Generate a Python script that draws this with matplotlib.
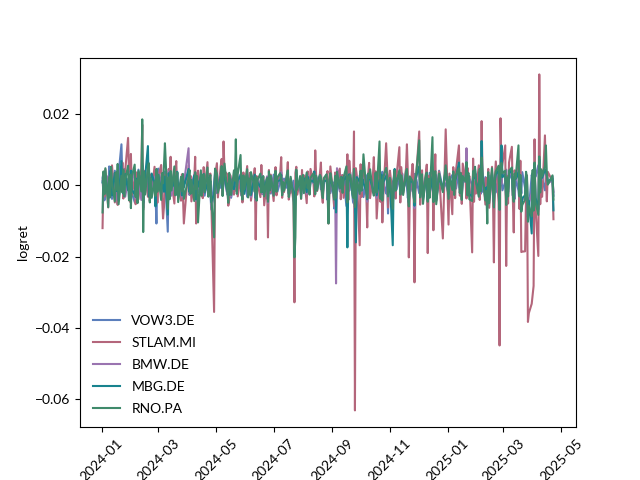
import matplotlib
matplotlib.use("Agg")
import matplotlib.pyplot as plt
import pandas as pd
import numpy as np

plt.rcParams['font.family'] = ['Lato', 'DejaVu Sans']

# log returns in units of 1e-3 (one row = 20 trading days)
vow3 = [
    2.1, 3.5, -4.2, 1.8, -2.6, 5.3, -1.4, 0.6, -3.8, 4.1, -0.9, 2.7, -5.1, 3.3, 11.5, 1.2, -2.8, 4.6, -1.7, 0.8,
    -3.9, 2.4, 5.2, -2.1, -4.7, 3.6, 0.3, -1.8, 4.4, -2.9, 6.1, -6.3, 1.5, 3.8, -2.2, 5.0, -3.4, 0.9, 2.6, -1.1,
    -2.5, -10.7, 3.2, 4.7, 0.4, -3.1, 2.2, -1.6, 3.9, -13.0, 4.3, 1.1, -2.4, 0.7, 3.5, -1.9, 2.8, -0.6, -3.3, 1.9,
    2.5, -1.2, 0.8, 3.4, -2.7, 1.6, -0.5, 2.9, -3.6, 1.3, 0.2, -2.1, 3.1, -1.4, 0.9, 2.3, -2.9, 1.7, -0.8, 2.6,
    -1.5, -6.8, 0.6, 3.7, -2.2, 1.4, -0.7, 2.8, -1.9, 0.5, 3.3, -2.6, 1.8, -0.3, 2.4, -3.5, 1.0, 0.4, 2.9, -1.3,
    1.6, 3.1, -2.4, 0.7, -1.1, 2.5, -3.2, 1.9, 0.3, -2.0, 1.2, 2.7, -1.6, -3.4, 0.8, 2.2, -1.3, 0.6, -2.5, 1.5,
    0.9, -3.8, 2.1, -0.4, 1.7, -2.3, 3.0, -1.0, 0.5, 2.4, -1.8, 1.1, 3.2, -2.6, 0.2, 1.9, -0.7, 2.6, -1.5, 0.8,
    -2.1, 1.3, -7.4, -1.9, 2.0, -0.8, 1.6, -2.7, 0.4, 2.2, -1.4, 3.1, -0.6, 1.5, -2.0, 0.9, 2.6, 3.4, -1.2, 0.7,
    1.8, 2.5, -1.1, 0.6, -2.4, 1.2, 3.0, -4.1, 0.3, 1.7, -2.2, 0.8, -6.5, 1.4, -0.9, 2.1, -1.7, 0.5, 2.8, -1.3,
    1.9, -5.8, 2.4, 0.7, -1.5, 3.6, -4.7, -5.2, 2.3, -1.0, 1.6, 0.4, -2.1, 2.7, -0.6, -3.3, 1.2, 2.9, -1.8, 0.9,
    2.6, -1.4, 0.8, 3.1, -2.0, 1.5, -0.7, 2.2, -1.6, 3.8, 0.5, -2.3, 1.7, -7.9, 2.4, -0.9, 1.1, -1.8, 2.9, 0.3,
    -1.2, 2.0, 0.6, -2.5, 3.3, -1.1, 1.4, -0.4, -3.6, 2.1, 0.9, -1.7, 2.5, 3.2, -0.8, 1.6, -2.2, 0.4, 1.9, -1.3,
    -3.1, 2.4, 0.7, 1.8, -2.6, 3.5, -0.5, 1.2, -1.9, 2.8, -3.4, 4.1, -1.0, 0.6, -2.3, 1.7, 2.9, -1.5, 0.3, 3.6,
    -0.9, 4.2, -2.1, 1.3, -3.7, 2.5, 3.9, -1.6, 0.8, -2.8, 1.9, 0.2, -4.6, 2.6, -1.3, 3.1, -0.7, 1.5, -2.4, 5.2,
    -1.8, 2.3, -3.5, -4.1, 1.6, 0.4, 3.0, -2.7, -3.9, 1.2, -2.0, 2.8, -3.3, 3.6, 2.1, -1.4, 0.9, 4.4, -2.6, -1.1,
    1.7, 3.4, -2.9, 0.6, -3.8, 2.2, -1.5, -4.4, 1.1, -2.3, 3.7, -0.8, 2.5, -4.9, -3.6, -6.8, 2.9, 1.8, -5.4, 3.1,
    2.4, 5.6, -2.1, 3.3, 0.7, 1.9, -1.4, 2.8, 1.2, 0.4, 2.5, -2.9,
]

stlam = [
    -12.0, 2.8, -3.1, 4.5, -6.2, 1.7, 3.9, -2.4, 5.6, -4.8, 0.9, 3.2, -5.5, 2.1, -1.3, 6.4, -3.7, 1.5, 4.2, 13.3,
    3.4, -4.6, 8.8, -2.7, 1.9, -5.3, 3.6, 0.7, -3.9, 4.8, 17.0, -6.9, 2.5, 4.1, -3.2, 1.6, -4.4, 3.0, -1.8, 5.2,
    -2.6, 4.3, -4.9, 2.3, 5.7, -3.5, -9.3, -6.0, 2.9, -1.5, 4.6, 3.1, 8.0, 1.4, -5.1, 3.7, 6.8, -2.2, 0.8, -4.3,
    3.1, -2.4, -10.7, 5.6, -1.8, 2.7, -4.5, 1.8, 8.0, -10.7, 2.4, 4.1, -2.9, 1.6, -3.6, 5.1, -1.2, 6.5, -2.7, 0.9,
    3.3, -4.1, -35.5, 2.6, 6.2, -3.4, 5.3, 7.4, -2.8, 12.3, 4.0, 3.1, -5.7, -4.2, 2.9, 1.3, -2.6, 3.8, -1.5, 4.7,
    -3.1, 2.2, 1.0, -4.8, 3.6, -1.7, 5.4, -2.9, 0.7, 3.5, -4.3, 1.9, 4.8, -15.2, 2.6, 0.4, -3.3, 5.7, -1.1, 2.4,
    -5.6, 1.8, -14.6, 4.3, -2.1, 3.0, -4.4, 1.2, 5.1, -2.8, 0.6, 3.7, 7.9, -3.5, 1.4, -1.9, 2.7, 6.5, -4.0, -2.3,
    1.9, -4.7, -32.8, 3.5, 5.2, -2.6, 1.7, -3.8, 4.3, -1.2, 2.8, -5.0, 3.9, 0.5, -2.4, 4.6, 1.3, -3.1, 9.8, 2.0,
    -1.6, 3.4, 6.4, -2.7, -4.9, 1.5, 2.6, 4.0, -10.7, -1.9, 5.3, -2.3, -5.8, 3.6, -1.4, 2.2, 4.7, -3.9, 0.8, 2.9,
    -3.5, 2.1, 8.7, -4.1, 6.9, 3.0, -2.4, 15.1, -63.1, 4.8, 2.7, -16.8, 5.9, -3.2, 1.8, 4.4, -2.5, -11.8, 3.1, 6.3,
    -3.6, 2.8, 7.9, -1.7, 3.9, -9.3, 5.2, -4.6, 2.3, -10.4, -3.0, 11.8, 5.5, -6.2, 1.4, 4.1, -2.8, 0.9, 3.7, -3.7,
    2.5, 10.7, -4.8, 5.1, 1.6, -2.2, 4.7, 11.5, 2.9, -20.2, -3.3, 6.0, 2.4, -27.2, -1.8, 3.6, 15.1, -5.4, 1.1, 4.2,
    -3.0, 3.2, 5.8, -19.0, 2.7, -2.1, 4.3, -12.6, 1.5, 8.7, -4.3, 3.9, -14.9, 15.7, -11.0, 3.3, -8.1, 5.1, 2.0, -3.6,
    4.4, 11.2, -2.9, 3.5, -5.2, 6.1, 1.8, -3.7, 4.9, -1.5, 2.6, -18.8, 7.5, -4.6, 3.0, -2.3, 5.6, -4.1, 1.2, 18.0,
    3.7, -5.4, 2.1, -3.8, 4.6, -6.3, 5.2, -2.5, -21.6, 1.9, 6.7, -4.8, -44.9, 18.8, 4.3, 5.9, 11.2, -22.6, 2.6, -5.1,
    6.4, 10.8, -3.4, -13.2, 4.2, 2.7, 5.5, -6.6, 6.9, -18.7, -18.6, -18.5, -3.0, 2.8, -38.3, -35.8, -33.2, -30.7, -28.2, 12.9,
    -6.0, -19.8, 31.1, -5.3, 4.1, -3.2, 14.0, 2.6, -4.5, 3.8, 1.1, -9.5,
]

bmw = [
    1.4, -2.3, 3.8, -1.1, 2.6, -3.4, 0.7, 4.2, -2.0, 1.5, -0.6, 3.1, -4.0, 2.2, 5.1, -1.7, 0.3, 2.9, -3.2, 1.8,
    -1.5, 3.6, -2.8, 0.9, 4.5, -3.7, 1.2, -0.4, 2.7, -4.1, 6.3, -5.2, 2.0, -1.3, 3.4, 4.6, -2.2, 0.8, -3.0, 2.4,
    -4.6, 1.7, -0.9, 3.2, -2.1, 0.5, 2.8, -1.6, 1.1, -6.4, 3.9, -0.7, 2.3, -2.9, 1.4, 0.6, -1.8, 3.5, -2.4, 0.2,
    -3.2, 1.9, 0.4, 10.4, -2.6, 1.3, -1.7, 3.0, 0.8, -4.3, 2.1, -0.9, 1.6, -2.2, 2.7, 0.3, -1.4, 3.3, -2.5, 1.1,
    0.6, -5.8, -3.1, 2.4, 1.0, -1.9, 3.2, 2.1, -0.8, 4.4, 1.7, -2.4, -1.2, 0.9, 2.5, -3.0, 1.5, -0.5, 3.6, -1.7,
    2.0, 1.4, -2.9, 0.7, 2.3, -1.5, 3.4, -2.1, 0.4, 1.8, -3.3, 1.2, 2.6, -4.2, 0.5, 1.9, -1.0, 2.8, -2.3, 0.6,
    -1.8, 2.5, -4.9, 1.6, -0.7, 2.2, -2.8, 0.9, 3.1, -1.3, 0.4, 2.0, 3.7, -1.9, 1.2, -0.6, 2.4, 1.5, -2.7, -0.9,
    1.1, -2.2, -6.3, -2.5, 2.9, -1.0, 0.7, -3.1, 2.0, 0.3, 1.6, -2.4, 2.8, -0.5, -1.3, 1.9, 0.6, 3.2, -1.7, 1.0,
    -0.8, 2.2, 1.4, -1.6, -2.9, 0.9, 1.7, -0.4, -5.1, 0.7, 2.6, -1.5, -3.4, 1.3, -27.5, 4.8, -1.2, 2.0, 1.3, -0.6,
    0.9, 3.4, -6.2, 1.1, 2.4, 1.6, -2.7, 3.3, -7.8, 1.9, -4.1, 2.8, 0.5, -1.7, 2.2, 1.4, -0.8, -4.6, 1.8, 3.0,
    2.3, -1.6, -2.4, -1.2, 2.8, -3.5, 1.0, -1.9, 2.6, -3.0, 0.4, 3.1, 2.1, -2.6, -1.4, 0.8, -5.7, 1.5, 3.4, -1.1,
    0.7, 2.9, -1.8, 1.2, 0.3, -2.0, 2.7, 3.5, -0.9, -5.3, 1.6, 0.5, -2.2, -6.4, 1.3, 2.4, 4.8, -2.3, 0.8, 1.9,
    -4.1, 1.5, 2.3, -3.2, 0.6, -2.7, 1.9, -3.1, 0.4, 2.6, -4.4, 2.0, -1.5, 3.8, -2.9, 1.1, -0.3, 2.4, -1.6, 0.8,
    1.7, 3.6, -1.2, 2.5, -2.8, 1.4, 0.9, 10.4, -1.7, 2.2, -3.0, -3.5, 2.7, 1.5, 4.1, 0.7, -2.4, 3.3, -1.1, 6.2,
    1.2, -3.4, -1.1, -2.9, 2.4, -4.0, 3.1, -0.7, -5.2, 0.8, 2.6, 3.7, -6.8, 4.9, 0.4, 2.8, 3.5, -4.6, 1.0, -2.3,
    2.8, 3.9, -1.6, -3.7, 2.0, 1.3, 4.2, -2.5, 1.7, -5.8, -4.1, -3.3, 2.5, 0.9, -9.6, -4.8, -2.2, 3.0, -6.4, 5.1,
    -3.9, -7.2, 6.8, -1.4, 3.1, 1.6, 4.9, 3.7, 2.2, 0.6, 1.4, -1.8,
]

mbg = [
    0.8, 3.1, -1.9, 2.4, -3.3, 1.2, 4.0, -0.7, -2.8, 3.5, 1.1, -1.6, 2.9, -4.2, 6.8, 0.4, -2.3, 1.7, 3.2, -1.4,
    2.6, -3.5, 4.1, -1.2, -2.6, 2.0, 1.3, -4.4, 3.7, -0.5, 5.6, -4.9, 0.9, 2.2, 11.0, -3.1, 1.8, -2.0, 3.3, 0.6,
    -5.9, 2.7, -1.1, 3.0, -2.4, 1.6, 0.2, -1.8, 2.5, -8.2, 3.4, 0.7, -1.5, 2.1, -0.3, 1.9, -2.6, 3.8, -1.2, 0.9,
    -2.8, 2.3, -0.6, 4.6, -1.9, 0.8, -2.2, 2.7, 1.1, -3.9, 1.5, -0.4, 2.4, -1.7, 1.0, 3.2, -2.0, 0.5, 2.1, -1.3,
    1.2, -4.7, -2.5, 3.1, 0.3, -1.4, 2.5, 1.6, -0.9, 3.8, 2.4, -1.8, 0.6, -2.7, 1.9, 0.2, -1.1, 2.8, 3.9, -0.6,
    1.5, 2.6, -1.8, 0.4, 1.9, -2.4, 2.9, -1.2, 1.1, 0.5, -2.7, 1.7, 3.0, -3.6, 1.3, 0.8, -0.5, 2.2, -1.9, 1.0,
    -1.4, 1.9, -3.8, 2.3, -0.2, 1.6, -2.1, 0.5, 2.5, -0.9, 1.2, 1.4, 2.9, -1.6, 0.7, -1.1, 1.8, 2.0, -2.3, -0.4,
    0.6, -1.7, -8.8, -3.4, 2.2, -0.5, 1.1, -2.6, 1.5, 0.9, 2.0, -1.9, 2.4, 0.1, -1.0, 1.4, 1.0, 3.9, -1.3, 0.7,
    -0.3, 2.8, 1.6, -1.2, -2.3, 1.4, 1.2, -0.8, -4.4, 0.2, 2.1, -0.9, -2.7, 1.8, -7.6, 2.9, -0.7, 1.5, 2.3, -1.0,
    1.4, 2.6, -17.4, 1.7, 3.1, 2.0, -3.2, 4.0, -5.5, -16.0, 2.3, 1.0, 3.4, -1.2, 1.7, 0.6, -1.6, -3.9, 2.4, 1.9,
    1.8, -1.1, -2.0, -1.7, 3.4, -2.8, 1.5, -1.4, 3.0, -2.5, 0.9, 2.6, 1.6, -2.2, -0.8, 1.3, -16.8, 2.0, 4.6, -0.7,
    1.1, 3.5, -1.4, 1.7, 0.8, -1.5, 2.2, 3.0, -0.4, -4.8, 1.2, 0.9, -1.8, -5.7, 1.6, 2.8, 5.3, -1.8, 1.3, 1.4,
    -3.6, 2.0, 1.8, -4.1, 1.1, -2.2, 2.4, -3.8, 0.9, 3.1, -3.9, 2.5, -1.0, 4.3, -2.4, 1.6, 0.2, 2.9, -1.1, 1.3,
    2.2, 6.4, -0.7, 3.0, -2.3, 1.9, 1.4, 5.1, -1.2, 2.7, -2.5, -3.1, 3.2, 2.0, 4.6, 1.2, -1.9, 3.8, -0.6, 12.4,
    1.7, -2.9, -0.6, -3.6, 2.9, -3.5, 3.6, -0.2, -4.7, 1.3, 3.1, 4.2, -5.3, 4.4, 11.2, 2.3, 3.0, -4.1, 1.5, -1.8,
    3.3, 4.4, -1.1, -3.2, 2.5, 1.8, 3.7, -2.0, 2.2, -5.3, -3.6, -2.8, 3.0, 1.4, -8.9, -4.3, -13.5, 3.5, -5.9, 5.6,
    -3.4, -6.7, 7.3, -0.9, 3.6, 2.1, 4.4, 4.2, 2.7, 1.1, 1.9, -7.0,
]

rno = [
    -7.6, 3.9, -2.5, 4.8, -6.1, 2.3, -3.4, 5.2, 0.8, -4.5, 3.6, -1.2, 6.0, -5.3, 2.7, -2.0, 4.4, -3.1, 1.6, 5.5,
    -4.2, 3.0, -6.4, 2.5, 5.8, -3.3, 1.4, -5.0, 4.1, -1.7, 18.5, -13.1, 3.8, -2.6, 4.9, 6.2, -4.8, 2.0, -3.5, 1.1,
    -3.0, 4.6, -1.8, 2.9, -4.1, 3.4, 0.6, 5.7, 11.8, -6.6, 2.2, -3.9, 4.0, -1.4, 5.3, -2.8, 1.0, 3.6, -4.7, 2.4,
    -1.7, 3.2, -3.8, 2.0, 4.3, -2.4, 1.5, -4.4, 3.7, -1.0, 2.6, -10.4, 4.2, -2.9, 1.8, 3.1, -1.9, 5.0, -3.2, 0.7,
    2.9, -3.6, -14.6, 4.7, 3.3, -2.1, 1.7, 5.4, -3.0, 2.2, 6.1, -1.6, -4.9, 3.5, 0.9, -2.7, 4.2, 1.3, 12.9, -2.4,
    3.1, 8.5, -2.3, -4.0, 2.8, -1.1, 4.5, -3.4, 1.9, -2.6, 3.7, 0.5, -1.8, 2.4, -4.3, 1.6, 3.3, -2.0, 0.8, 2.6,
    -3.1, 2.0, -4.6, 3.9, -1.4, 2.7, -2.9, 1.0, 4.1, -1.8, 2.3, 3.4, 1.6, -2.8, 0.9, -1.5, 3.0, 4.2, -3.3, -1.2,
    2.4, -3.3, -20.2, -14.6, 4.4, -1.2, 2.6, -3.7, 1.8, 2.9, -2.2, 3.6, -0.8, 1.4, -2.6, 2.1, 3.3, 1.9, -2.5, 2.7,
    -1.4, 2.9, 2.2, -1.8, -3.6, 2.0, 3.1, -2.2, -10.7, 1.5, 3.4, -1.7, -4.0, 2.6, -3.5, 3.8, -0.9, 2.3, 1.0, -2.1,
    2.2, 5.3, -4.8, 2.5, 1.9, 3.0, -3.5, 4.6, -6.1, -3.0, 1.7, -2.4, 4.1, -1.5, 2.8, 8.7, -1.3, -3.6, 3.3, 2.0,
    4.5, -1.8, -2.9, -1.1, 3.6, -2.0, 12.3, -3.8, 1.4, -4.3, 2.3, 4.9, 3.2, -3.1, -0.6, 2.1, -6.6, 1.3, 4.1, -1.5,
    0.9, 4.2, -2.6, 2.8, 1.1, -2.7, 3.8, 4.6, -1.5, -5.9, 2.5, 1.2, -3.0, -4.8, 2.1, 3.7, 12.6, -3.4, 1.0, 3.1,
    -5.2, 2.9, 3.6, -4.6, 1.8, -3.5, 13.5, -4.7, 1.2, 4.0, -5.3, 3.3, -1.9, 5.6, -3.8, 2.4, -1.3, 3.9, -2.7, 1.6,
    2.9, 4.8, -2.2, 3.4, -4.1, 2.6, 1.0, 6.5, -2.8, 3.5, -3.9, -4.4, 4.0, 2.7, 5.2, 0.9, -3.2, 4.6, -1.7, 7.8,
    2.4, -4.2, -1.6, -10.7, 3.7, -5.0, 4.8, -1.3, -6.2, 2.1, 3.9, 5.5, -6.9, 5.0, 6.3, 3.4, 4.1, -5.5, 2.2, -3.1,
    4.1, 5.0, -2.4, -4.6, 3.3, 2.0, 11.2, -3.1, 2.9, -7.4, -5.5, -4.0, 3.8, 2.1, -10.2, -5.8, -8.7, 4.3, -7.1, 6.4,
    -4.7, -8.3, 8.1, -2.0, 4.5, 2.6, 5.4, 11.2, 3.3, 0.2, 2.8, -4.0,
]

tickers = ['VOW3.DE', 'STLAM.MI', 'BMW.DE', 'MBG.DE', 'RNO.PA']
series = [vow3, stlam, bmw, mbg, rno]
colors = ['#5b7fbc', '#b4667b', '#9a74b0', '#18838e', '#3f8a6b']

holidays = ['2024-03-29', '2024-04-01', '2024-05-01', '2024-12-24', '2024-12-25',
            '2024-12-26', '2024-12-31', '2025-01-01', '2025-04-18', '2025-04-21']

fig, ax = plt.subplots(figsize=(6.4, 4.8), dpi=100)
for name, vals, col in zip(tickers, series, colors):
    d = pd.bdate_range('2024-01-02', periods=len(vals), freq='C', holidays=holidays)
    ax.plot(d, np.array(vals) / 1000.0, color=col, lw=1.5, label=name)

ax.set_ylabel('logret')
ax.legend(loc='lower left', frameon=False, labelspacing=0.72)
plt.setp(ax.get_xticklabels(), rotation=45)
fig.savefig('out.png')
